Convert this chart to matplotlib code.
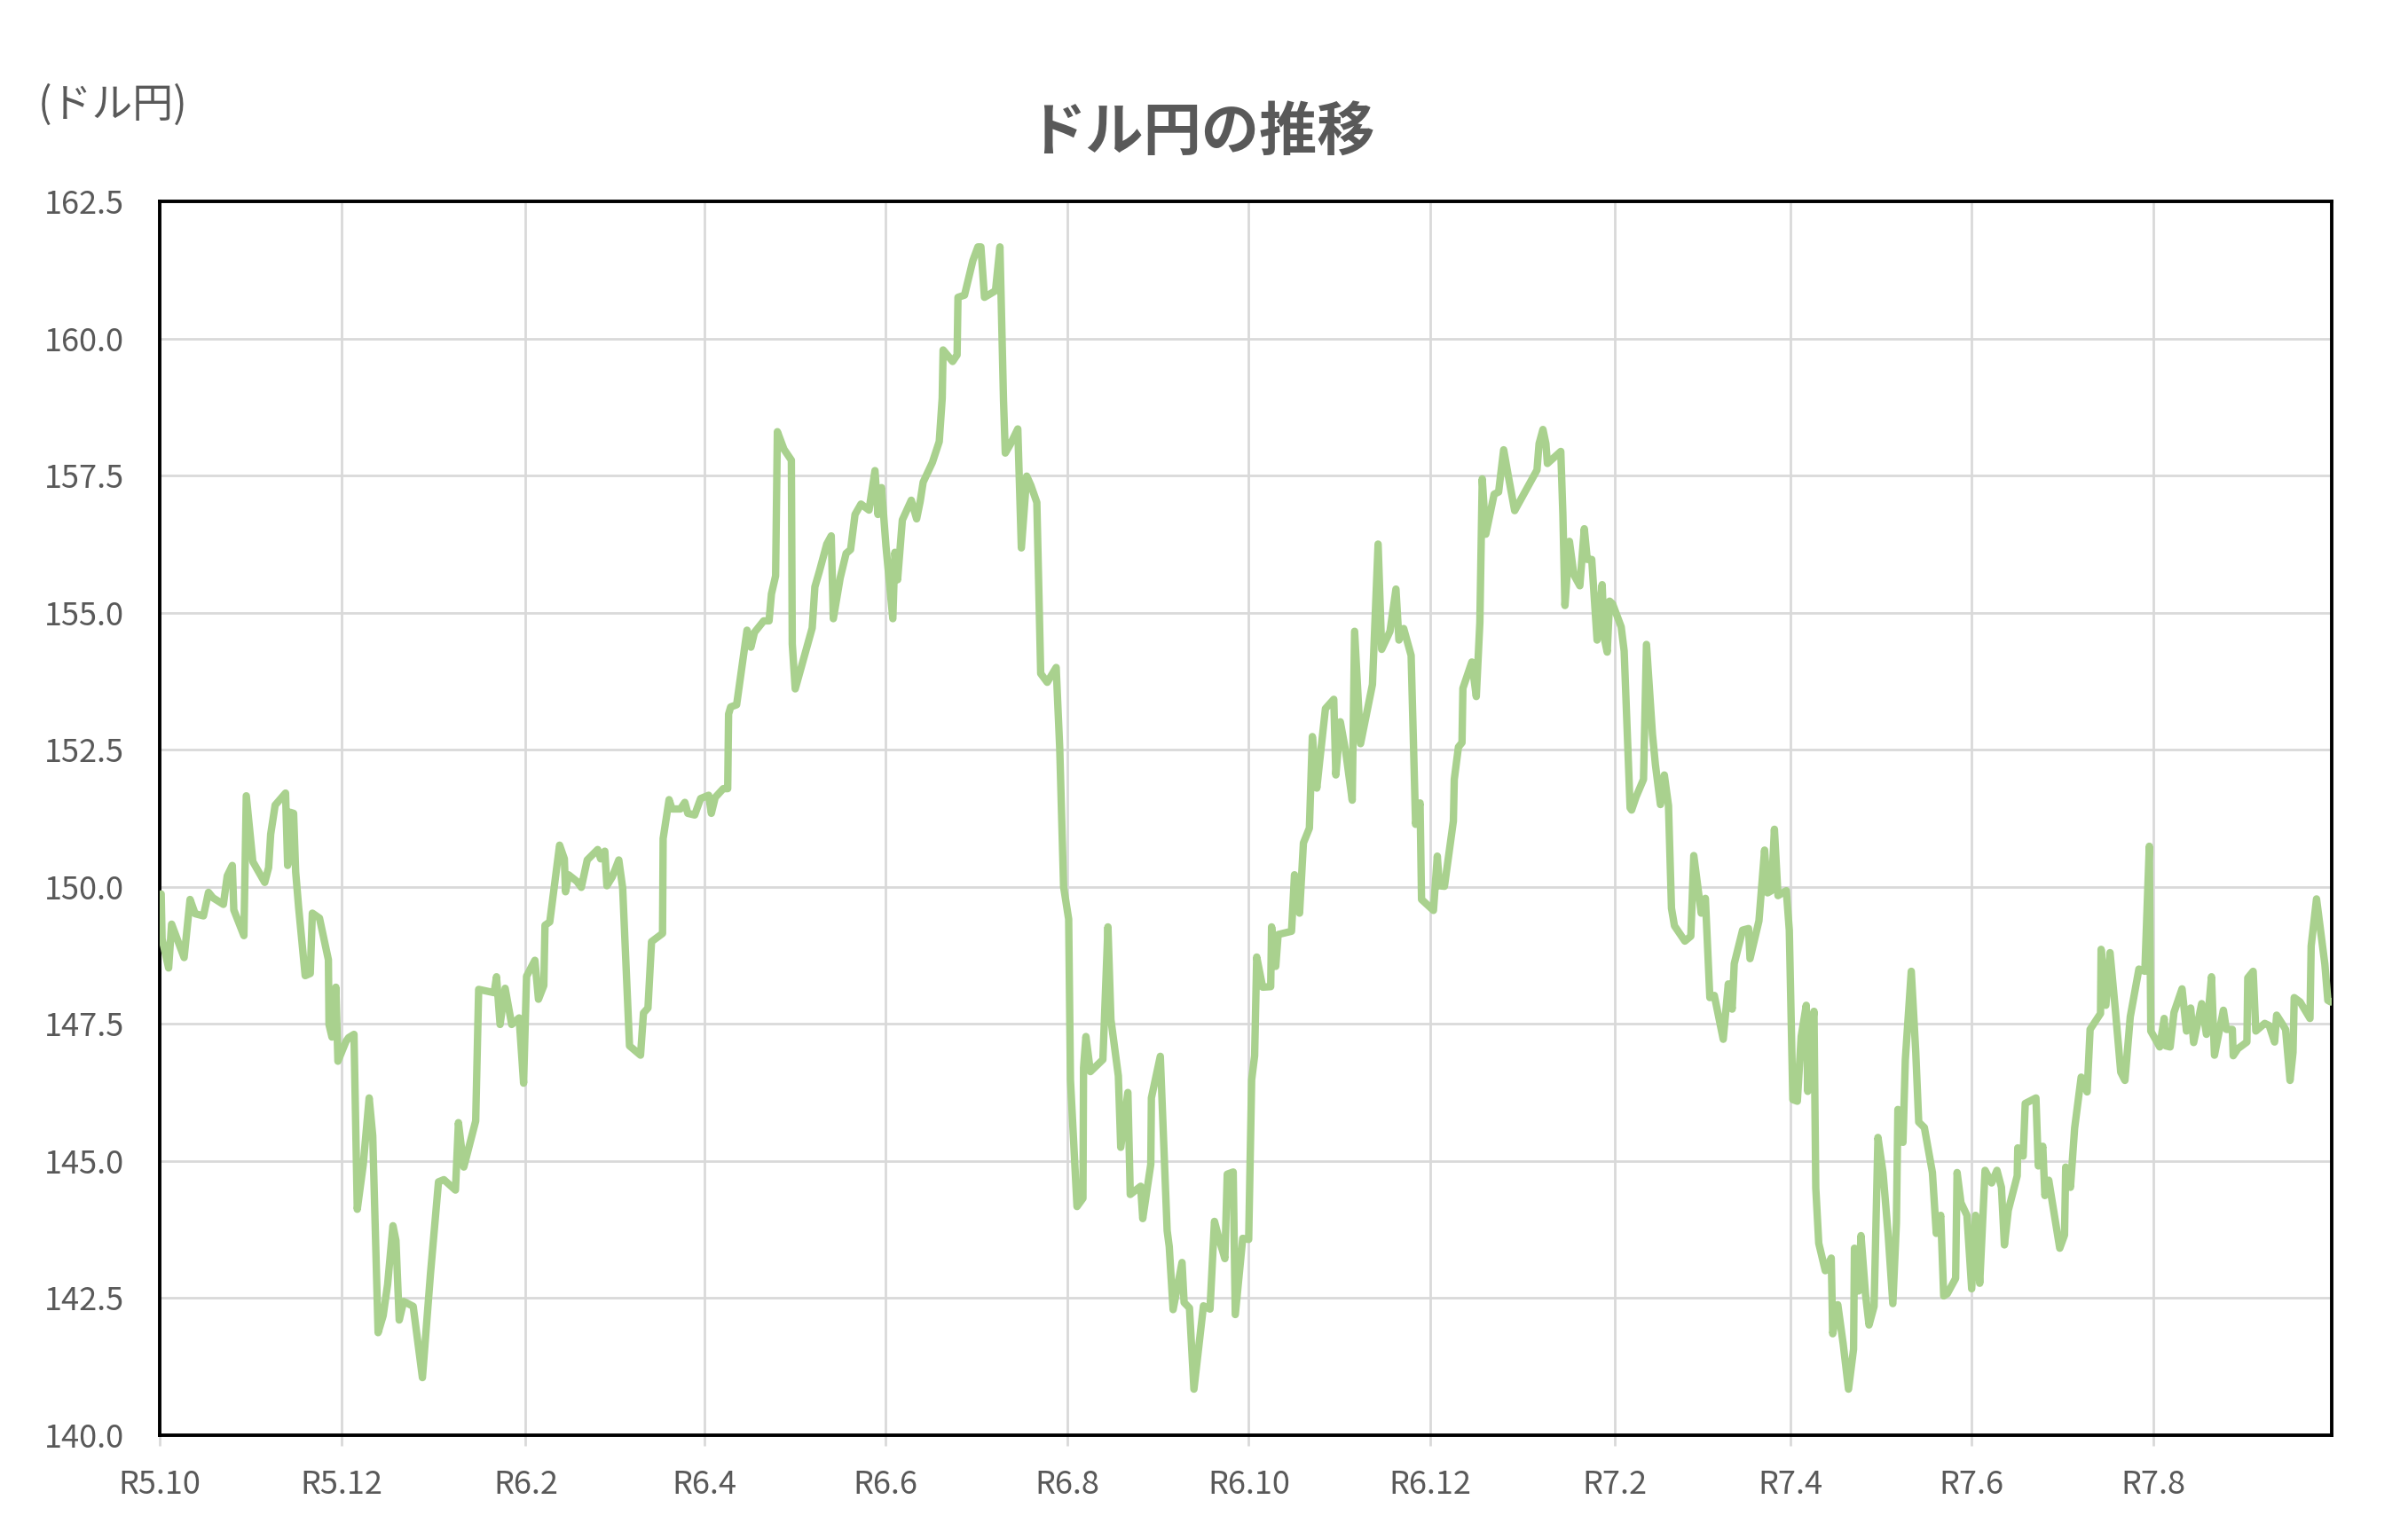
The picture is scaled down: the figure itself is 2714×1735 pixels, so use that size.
import matplotlib
matplotlib.use('Agg')
import matplotlib.pyplot as plt
import numpy as np
import pandas as pd

# days counted from 2023-10-01
days = [
    0.5, 0.8, 3.0, 4.0, 8.2, 10.2, 11.9, 14.7, 16.4, 17.9, 21.4, 22.7, 24.4, 24.9, 28.3, 29.1,
    31.3, 35.3, 36.6, 37.3, 38.8, 42.3, 43.0, 43.8, 45.0, 45.7, 46.7, 48.9, 50.6, 51.3, 53.7,
    56.7, 56.9, 57.9, 59.2, 59.9, 62.6, 63.5, 65.3, 66.4, 68.4, 70.4, 71.6, 73.4, 75.1, 76.6,
    78.4, 79.4, 80.5, 82.0, 85.2, 88.3, 91.0, 93.7, 95.5, 99.4, 100.4, 102.2, 106.2, 107.2,
    112.4, 113.2, 114.4, 116.1, 118.3, 120.8, 122.3,
    123.3, 126.1, 127.3, 129.1, 129.5, 131.1, 134.4, 136.0, 136.4, 137.4, 140.2, 141.7, 143.7,
    147.2, 148.2, 149.6, 150.3, 152.1, 154.3, 155.6, 157.9, 161.6, 162.6, 164.1, 165.3, 169.0,
    169.2, 171.2, 172.2, 175.0, 176.5, 177.5, 179.8, 181.8, 184.5, 185.4, 186.7, 189.4, 190.9,
    191.2, 191.9, 193.9, 195.7, 197.4, 198.7, 199.9, 203.0, 204.8, 205.6, 207.0, 207.6, 209.8,
    212.3, 212.6, 213.6, 219.3, 220.2, 221.7, 224.2, 225.7, 226.4, 228.7, 230.7, 232.2, 233.7,
    235.7, 238.4, 240.4, 241.4, 242.6, 244.1, 246.4, 247.1, 248.0, 249.6,
    252.6, 254.4, 255.6, 256.6, 259.7, 262.0, 263.0, 263.3, 266.5, 268.0, 268.3, 270.5, 273.3,
    275.0, 276.0, 277.2, 280.9, 282.4, 283.6, 284.2, 285.9, 288.4, 289.6, 291.4, 292.8, 294.8,
    295.3, 296.1, 298.3, 301.3, 302.5, 303.8,
    305.5, 306.1, 308.3, 310.3, 310.5, 311.3, 312.8, 317.0, 318.7, 319.7, 322.2, 323.0, 325.4,
    326.2, 329.7, 330.4, 333.1, 333.3, 336.3, 338.6, 339.3, 340.6, 343.6, 344.3, 346.1, 347.6,
    350.8, 353.0, 354.5, 356.2, 358.0, 358.8, 360.8, 361.5, 364.0, 366.0, 367.0, 368.0, 368.7,
    370.7, 373.4, 373.7, 375.1, 375.9, 380.4, 381.4, 383.1,
    384.4, 386.4, 387.4, 388.9, 389.9, 391.8, 394.6, 395.3, 396.8, 398.6, 400.8, 401.6, 403.6,
    407.6, 409.5, 410.7, 413.5, 415.5,
    416.5, 418.1, 420.6, 422.1, 423.6, 424.1, 428.1, 429.4, 430.1, 431.8, 434.8, 435.1, 436.5,
    437.7, 438.0, 441.0, 442.5, 443.7, 444.5, 445.7, 448.5, 450.0, 451.7, 453.3, 455.4, 462.9,
    463.6, 464.9, 465.9, 466.4, 470.9, 471.6, 472.3, 473.8, 475.3, 477.3, 478.8, 479.8, 481.3,
    483.1, 484.8, 485.5, 486.5, 487.3, 488.3, 491.2, 492.2, 494.2, 494.7, 496.2, 498.7, 499.7,
    501.7, 502.7, 504.4, 505.7, 507.1, 508.1, 509.1,
    512.6, 514.6, 515.6, 518.1, 519.5, 521.0, 522.5, 525.5, 527.2, 528.5, 529.2, 532.0, 534.0,
    534.5, 537.5, 539.4, 540.4, 541.7, 542.7, 543.9, 546.7, 547.7, 548.9, 550.4, 551.7, 553.4,
    553.9, 554.6, 556.0, 556.6, 557.6, 559.8, 561.8, 562.3, 564.0, 565.8, 567.6, 569.3, 569.6,
    571.0, 571.8, 573.3, 574.5, 576.2, 577.5, 579.2, 580.9, 582.5, 583.7, 584.2, 585.9, 586.7,
    588.7, 590.2, 591.2, 593.1, 595.8, 597.1, 598.6, 599.6, 600.8, 603.6, 604.1, 605.4, 607.4,
    609.0, 610.3, 611.7, 613.5, 615.7, 617.5,
    619.0, 620.0, 621.3, 624.3, 624.5, 626.3, 627.0, 630.6, 631.4, 632.9, 633.6, 634.9, 636.9,
    638.6, 640.2, 640.6, 642.2, 643.6, 645.8, 647.8, 648.8, 652.3, 652.5, 654.1, 655.5, 657.3,
    659.1, 660.5, 662.3, 665.2, 667.2, 668.7, 669.2, 672.2, 673.7, 674.2, 675.7, 677.0, 679.7,
    681.2, 682.6, 683.6, 686.3, 687.9, 689.6, 690.6, 693.6, 694.6, 696.6, 696.9, 698.5, 701.5,
    701.8, 703.6, 704.5, 707.5, 709.0, 710.8, 711.5, 713.5, 714.5, 716.0, 717.0, 717.4, 719.4,
    722.7, 723.1, 724.9, 727.7, 728.7, 729.7,
]

rates = [
    149.87, 149.05, 148.52, 149.32, 148.71, 149.77, 149.51, 149.47, 149.90, 149.80, 149.68, 150.20,
    150.39, 149.58, 149.11, 151.66, 150.46, 150.08, 150.35, 150.96, 151.49, 151.71, 150.39, 151.36,
    151.34, 150.27, 149.62, 148.38, 148.42, 149.52, 149.43, 148.67, 147.49, 147.26, 148.17, 146.82,
    147.18, 147.25, 147.31, 144.12, 144.93, 146.15, 145.46, 141.87, 142.18, 142.75, 143.82, 143.55,
    142.10, 142.44, 142.35, 141.05, 142.94, 144.62, 144.66, 144.47, 145.70, 144.89, 145.73, 148.13,
    148.07, 148.36, 147.49, 148.15, 147.49, 147.61, 146.42,
    148.37, 148.66, 147.95, 148.20, 149.30, 149.36, 150.76, 150.51, 149.91, 150.22, 150.10, 149.99,
    150.49, 150.68, 150.51, 150.65, 150.02, 150.18, 150.49, 149.98, 147.10, 146.93, 147.70, 147.79,
    149.00, 149.15, 150.88, 151.59, 151.42, 151.42, 151.54, 151.34, 151.31, 151.61, 151.67, 151.34,
    151.63, 151.79, 151.79, 153.15, 153.28, 153.32, 154.02, 154.68, 154.37, 154.64, 154.85, 154.85,
    155.34, 155.67, 158.30, 157.98, 157.78, 154.43, 153.61, 154.72, 155.47, 155.75, 156.25, 156.40,
    154.89, 155.63, 156.08, 156.15, 156.79, 156.98, 156.87, 157.59, 156.79, 157.28, 156.21, 154.89,
    156.10, 155.60, 156.69,
    157.05, 156.71, 157.03, 157.38, 157.74, 158.12, 158.91, 159.79, 159.58, 159.70, 160.75, 160.79,
    161.42, 161.67, 161.67, 160.75, 160.87, 161.67, 158.87, 157.91, 158.07, 158.35, 156.18, 157.49,
    157.32, 157.01, 155.78, 153.89, 153.73, 154.00, 152.52, 150.00,
    149.41, 146.48, 144.17, 144.32, 146.70, 147.27, 146.63, 146.85, 149.27, 147.58, 146.55, 145.25,
    146.25, 144.39, 144.54, 143.95, 144.94, 146.15, 146.91, 143.73, 143.44, 142.29, 143.15, 142.42,
    142.32, 140.84, 142.36, 142.30, 143.90, 143.55, 143.22, 144.76, 144.80, 142.20, 143.59, 143.57,
    146.48, 146.92, 148.72, 148.17, 148.18, 149.27, 148.55, 149.13, 149.19, 150.22, 149.52,
    150.80, 151.07, 152.74, 151.80, 152.31, 153.25, 153.42, 152.04, 153.01, 152.47, 151.58, 154.66,
    152.61, 153.69, 156.25, 154.33, 154.66, 155.43,
    154.50, 154.71, 154.22, 151.14, 151.53, 149.77, 149.57, 150.56, 150.02, 150.01, 151.20, 151.96,
    152.55, 152.63, 153.62, 154.10, 153.47, 154.82, 157.44, 156.43, 157.16, 157.20, 157.97, 157.48,
    156.86, 157.60, 158.08, 158.34, 158.08, 157.72, 157.94, 156.80, 155.13, 156.30, 155.69, 155.49,
    156.53, 155.97, 155.97, 154.50, 155.51, 154.54, 154.28, 155.21, 155.16, 154.74, 154.30, 151.44,
    151.40, 151.64, 151.96, 154.42, 152.79, 152.23, 151.50, 152.04, 151.48, 149.61, 149.29,
    149.01, 149.10, 150.57, 149.52, 149.79, 147.98, 148.02, 147.22, 148.23, 147.77, 148.60, 149.21,
    149.24, 148.69, 149.38, 150.67, 149.89, 149.93, 151.05, 149.84, 149.93, 149.21, 146.12, 146.09,
    147.27, 147.84, 146.27, 147.08, 147.73, 144.51, 143.50, 143.00, 143.23, 141.85, 142.38, 141.67,
    140.84, 141.57, 143.41, 142.63, 143.64, 142.58, 142.01, 142.35, 145.43, 144.79, 143.68, 142.40,
    143.87, 145.94, 145.34, 146.85, 148.46, 146.99, 145.71, 145.61, 144.79, 143.68, 144.01, 142.54,
    142.58, 142.86, 144.79, 144.24, 144.01, 142.67, 144.01, 142.77, 144.83, 144.60, 144.83,
    144.52, 143.47, 144.10, 144.73, 145.24, 145.09, 146.05, 146.15, 144.91, 145.27, 144.37, 144.65,
    143.98, 143.41, 143.65, 144.89, 144.52, 145.60, 146.53, 146.26, 147.40, 147.69, 148.86, 147.84,
    148.80, 147.75, 146.62, 146.47, 147.63, 148.50, 148.46, 150.74, 147.37, 147.08, 147.60, 147.10,
    147.08, 147.71, 148.14, 147.37, 147.79, 147.16, 147.87, 147.31, 148.36, 146.93, 147.75, 147.40,
    147.40, 146.92, 147.05, 147.17, 148.34, 148.46, 147.37, 147.51, 147.47, 147.17, 147.66, 147.49,
    147.40, 146.47, 146.98, 147.98, 147.90, 147.60, 148.92, 149.78, 148.59, 147.93, 147.90,
]

tick_labels = ['R5.10', 'R5.12', 'R6.2', 'R6.4', 'R6.6', 'R6.8',
               'R6.10', 'R6.12', 'R7.2', 'R7.4', 'R7.6', 'R7.8']

GREEN = '#A9D18E'
GRID = '#D9D9D9'
TEXT = '#595959'

plt.rcParams['font.family'] = ['Noto Sans CJK JP', 'DejaVu Sans']

start = pd.Timestamp('2023-10-01')
dates = start + pd.to_timedelta(days, unit='D')
tick_dates = pd.date_range('2023-10-01', periods=len(tick_labels), freq='2MS')

W, H = 2714, 1735
fig = plt.figure(figsize=(W / 100, H / 100), dpi=100)
ax = fig.add_axes([180 / W, 1 - 1618 / H, (2628 - 180) / W, (1618 - 227) / H])

ax.plot(dates, rates, color=GREEN, lw=6, solid_joinstyle='round', solid_capstyle='round', zorder=3)

ax.set_xlim(start, pd.Timestamp('2025-09-30'))
ax.set_ylim(140, 162.5)
ax.set_yticks(np.arange(140, 162.6, 2.5))
ax.set_yticklabels([f'{v:.1f}' for v in np.arange(140, 162.6, 2.5)])
ax.set_xticks(tick_dates)
ax.set_xticklabels(tick_labels)

ax.grid(True, color=GRID, lw=2)
ax.set_axisbelow(True)
for s in ax.spines.values():
    s.set_color('black')
    s.set_linewidth(2.8)

ax.tick_params(axis='y', length=0, pad=29, labelsize=26, labelcolor=TEXT)
ax.tick_params(axis='x', length=8.5, width=2, color=GRID, pad=19, labelsize=26, labelcolor=TEXT)

fig.text(0.499, 1 - 149 / H, 'ドル円の推移', ha='center', va='center',
         fontsize=47, fontweight='bold', color=TEXT)
fig.text(43 / W, 1 - 119 / H, '(ドル円)', ha='left', va='center', fontsize=33, color=TEXT)

fig.savefig('out.png', dpi=100)
